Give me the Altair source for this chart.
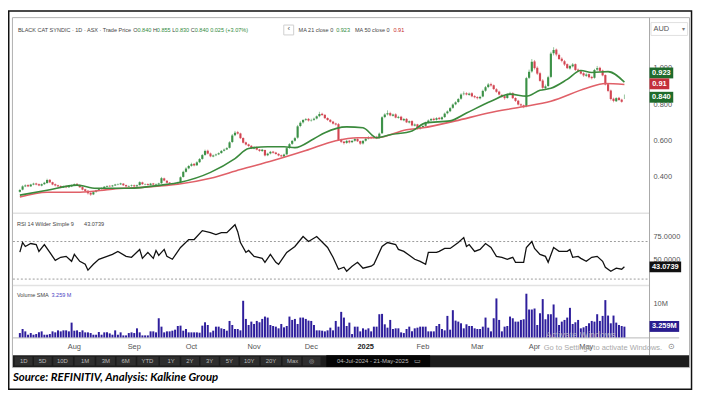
import altair as alt
import pandas as pd

# ----------------------------------------------------------------- data
month_ticks = [20, 42, 63, 86, 107, 127, 148, 168, 189, 208]
month_labels = ["Aug", "Sep", "Oct", "Nov", "Dec", "2025", "Feb", "Mar", "Apr", "May"]

close = [
    0.330, 0.350, 0.355, 0.350, 0.360, 0.365, 0.360, 0.355, 0.362, 0.370, 0.385, 0.372, 0.360, 0.355, 0.350, 0.345, 0.350, 0.345, 0.352, 0.356,
    0.362, 0.358, 0.345, 0.332, 0.325, 0.312, 0.305, 0.318, 0.328, 0.335, 0.340, 0.348, 0.352, 0.350, 0.355, 0.360, 0.362, 0.366, 0.356, 0.350, 0.352, 0.355,
    0.350, 0.356, 0.373, 0.362, 0.362, 0.358, 0.365, 0.360, 0.362, 0.366, 0.395, 0.382, 0.370, 0.365, 0.362, 0.366, 0.372, 0.400, 0.430, 0.448, 0.462,
    0.472, 0.465, 0.482, 0.500, 0.522, 0.545, 0.530, 0.515, 0.520, 0.525, 0.532, 0.545, 0.552, 0.560, 0.592, 0.630, 0.645, 0.640, 0.615, 0.590, 0.580, 0.572, 0.560,
    0.565, 0.552, 0.545, 0.552, 0.520, 0.530, 0.540, 0.535, 0.528, 0.520, 0.515, 0.525, 0.560, 0.582, 0.600, 0.615, 0.680, 0.700, 0.715, 0.720, 0.712,
    0.715, 0.722, 0.735, 0.748, 0.742, 0.725, 0.715, 0.705, 0.695, 0.690, 0.605, 0.595, 0.588, 0.600, 0.592, 0.600, 0.610, 0.598, 0.585, 0.600,
    0.612, 0.620, 0.615, 0.622, 0.615, 0.640, 0.730, 0.745, 0.752, 0.740, 0.745, 0.728, 0.732, 0.715, 0.720, 0.702, 0.708, 0.685, 0.690, 0.668, 0.675,
    0.682, 0.700, 0.712, 0.720, 0.715, 0.725, 0.720, 0.730, 0.750, 0.762, 0.780, 0.800, 0.812, 0.830, 0.855, 0.860, 0.855, 0.860, 0.845, 0.840,
    0.835, 0.842, 0.875, 0.895, 0.910, 0.905, 0.885, 0.870, 0.855, 0.845, 0.835, 0.855, 0.860, 0.835, 0.820, 0.800, 0.795, 0.790, 0.945, 0.980, 1.035,
    1.000, 0.970, 0.930, 0.892, 0.900, 0.950, 1.080, 1.100, 1.075, 1.050, 1.040, 1.020, 1.000, 1.012, 1.020, 0.990, 0.985, 0.970, 0.960,
    0.965, 0.950, 0.945, 0.990, 1.000, 0.985, 0.960, 0.910, 0.875, 0.830, 0.820, 0.835, 0.825, 0.815, 0.840,
]
open_ = [
    0.320, 0.332, 0.350, 0.357, 0.350, 0.360, 0.366, 0.362, 0.354, 0.362, 0.368, 0.386, 0.373, 0.362, 0.356, 0.352, 0.344, 0.352, 0.345, 0.350,
    0.355, 0.364, 0.358, 0.346, 0.334, 0.326, 0.314, 0.306, 0.320, 0.328, 0.336, 0.341, 0.348, 0.353, 0.350, 0.355, 0.360, 0.361, 0.365, 0.357, 0.349, 0.352,
    0.356, 0.350, 0.357, 0.372, 0.360, 0.363, 0.358, 0.366, 0.359, 0.361, 0.367, 0.394, 0.381, 0.371, 0.366, 0.361, 0.366, 0.373, 0.402, 0.430, 0.449,
    0.463, 0.474, 0.466, 0.483, 0.501, 0.523, 0.546, 0.531, 0.514, 0.521, 0.526, 0.533, 0.546, 0.553, 0.562, 0.594, 0.631, 0.648, 0.641, 0.616, 0.592, 0.581, 0.573,
    0.558, 0.566, 0.553, 0.544, 0.550, 0.521, 0.531, 0.541, 0.536, 0.529, 0.521, 0.514, 0.526, 0.561, 0.584, 0.601, 0.618, 0.682, 0.702, 0.716, 0.721,
    0.713, 0.716, 0.723, 0.736, 0.749, 0.743, 0.726, 0.716, 0.706, 0.696, 0.692, 0.606, 0.596, 0.589, 0.601, 0.593, 0.601, 0.611, 0.599, 0.586,
    0.601, 0.613, 0.621, 0.616, 0.623, 0.616, 0.642, 0.731, 0.746, 0.753, 0.738, 0.746, 0.727, 0.733, 0.713, 0.721, 0.701, 0.709, 0.684, 0.691, 0.667,
    0.676, 0.683, 0.701, 0.713, 0.722, 0.716, 0.727, 0.719, 0.731, 0.752, 0.763, 0.782, 0.801, 0.814, 0.832, 0.857, 0.862, 0.853, 0.862, 0.846,
    0.841, 0.834, 0.844, 0.876, 0.896, 0.912, 0.906, 0.884, 0.871, 0.853, 0.846, 0.836, 0.857, 0.862, 0.836, 0.821, 0.801, 0.796, 0.792, 0.947, 0.982,
    1.037, 1.002, 0.972, 0.932, 0.890, 0.902, 0.952, 1.082, 1.102, 1.073, 1.052, 1.038, 1.022, 0.998, 1.010, 1.022, 0.992, 0.983, 0.972,
    0.958, 0.967, 0.952, 0.947, 0.992, 1.002, 0.987, 0.962, 0.912, 0.877, 0.832, 0.818, 0.837, 0.827, 0.840,
]
high = [
    0.336, 0.356, 0.361, 0.362, 0.364, 0.370, 0.370, 0.366, 0.366, 0.375, 0.392, 0.390, 0.376, 0.366, 0.359, 0.356, 0.354, 0.355, 0.356, 0.360,
    0.366, 0.368, 0.361, 0.349, 0.337, 0.330, 0.318, 0.322, 0.332, 0.338, 0.344, 0.352, 0.356, 0.357, 0.358, 0.364, 0.366, 0.370, 0.368, 0.360, 0.356, 0.360,
    0.360, 0.360, 0.378, 0.376, 0.366, 0.367, 0.369, 0.369, 0.366, 0.370, 0.402, 0.398, 0.384, 0.374, 0.369, 0.370, 0.376, 0.405, 0.436, 0.455, 0.468,
    0.480, 0.478, 0.488, 0.506, 0.528, 0.552, 0.552, 0.536, 0.525, 0.530, 0.537, 0.550, 0.558, 0.566, 0.598, 0.638, 0.655, 0.655, 0.645, 0.620, 0.596, 0.585, 0.577,
    0.570, 0.570, 0.556, 0.556, 0.552, 0.535, 0.545, 0.545, 0.540, 0.532, 0.525, 0.530, 0.565, 0.588, 0.605, 0.622, 0.688, 0.708, 0.720, 0.726, 0.726,
    0.722, 0.728, 0.740, 0.760, 0.755, 0.748, 0.730, 0.720, 0.710, 0.700, 0.698, 0.612, 0.600, 0.606, 0.605, 0.606, 0.615, 0.614, 0.602, 0.605,
    0.616, 0.626, 0.626, 0.628, 0.628, 0.646, 0.736, 0.752, 0.768, 0.760, 0.750, 0.752, 0.738, 0.738, 0.726, 0.726, 0.712, 0.714, 0.696, 0.694, 0.680,
    0.688, 0.706, 0.718, 0.726, 0.728, 0.730, 0.732, 0.735, 0.756, 0.768, 0.786, 0.806, 0.818, 0.836, 0.862, 0.872, 0.868, 0.866, 0.868, 0.852,
    0.846, 0.848, 0.882, 0.902, 0.918, 0.920, 0.910, 0.890, 0.876, 0.858, 0.850, 0.860, 0.870, 0.868, 0.840, 0.826, 0.806, 0.800, 0.952, 0.992, 1.050,
    1.045, 1.010, 0.980, 0.940, 0.910, 0.958, 1.090, 1.115, 1.108, 1.080, 1.060, 1.045, 1.026, 1.018, 1.028, 1.026, 0.998, 0.990, 0.978,
    0.972, 0.972, 0.958, 0.996, 1.012, 1.008, 0.992, 0.966, 0.918, 0.882, 0.838, 0.840, 0.842, 0.832, 0.855,
]
low = [
    0.316, 0.328, 0.346, 0.346, 0.347, 0.356, 0.356, 0.351, 0.350, 0.358, 0.365, 0.368, 0.356, 0.350, 0.346, 0.340, 0.341, 0.340, 0.342, 0.346,
    0.352, 0.354, 0.342, 0.328, 0.318, 0.305, 0.298, 0.302, 0.315, 0.324, 0.332, 0.338, 0.345, 0.346, 0.347, 0.352, 0.356, 0.358, 0.352, 0.345, 0.345, 0.348,
    0.346, 0.346, 0.354, 0.358, 0.356, 0.354, 0.355, 0.356, 0.355, 0.358, 0.364, 0.378, 0.366, 0.361, 0.358, 0.358, 0.364, 0.370, 0.398, 0.426, 0.444,
    0.458, 0.460, 0.462, 0.478, 0.496, 0.518, 0.526, 0.510, 0.510, 0.516, 0.522, 0.530, 0.542, 0.550, 0.558, 0.588, 0.626, 0.635, 0.610, 0.586, 0.575, 0.566, 0.555,
    0.554, 0.548, 0.540, 0.540, 0.515, 0.516, 0.526, 0.530, 0.524, 0.515, 0.510, 0.510, 0.522, 0.556, 0.578, 0.596, 0.612, 0.675, 0.695, 0.710, 0.706,
    0.706, 0.710, 0.718, 0.730, 0.738, 0.720, 0.710, 0.700, 0.690, 0.684, 0.600, 0.588, 0.580, 0.584, 0.586, 0.588, 0.596, 0.594, 0.578, 0.580,
    0.596, 0.608, 0.610, 0.612, 0.610, 0.612, 0.638, 0.725, 0.740, 0.735, 0.734, 0.724, 0.722, 0.710, 0.708, 0.698, 0.696, 0.680, 0.680, 0.662, 0.662,
    0.670, 0.678, 0.696, 0.708, 0.710, 0.712, 0.715, 0.714, 0.726, 0.746, 0.758, 0.776, 0.796, 0.808, 0.826, 0.850, 0.850, 0.848, 0.840, 0.834,
    0.828, 0.828, 0.840, 0.870, 0.890, 0.898, 0.880, 0.864, 0.850, 0.838, 0.826, 0.832, 0.850, 0.830, 0.814, 0.795, 0.788, 0.780, 0.785, 0.940, 0.975,
    0.992, 0.962, 0.925, 0.880, 0.882, 0.895, 0.945, 1.070, 1.065, 1.045, 1.032, 1.012, 0.995, 0.992, 1.004, 0.984, 0.978, 0.965, 0.952,
    0.952, 0.944, 0.938, 0.942, 0.985, 0.978, 0.955, 0.905, 0.868, 0.822, 0.812, 0.814, 0.820, 0.810, 0.830,
]
volume_m = [
    1.3, 2.5, 1.8, 0.8, 1.3, 0.8, 1.0, 1.5, 1.8, 0.8,
    0.8, 1.0, 1.8, 1.5, 2.1, 1.8, 2.1, 2.1, 1.8, 4.4,
    2.0, 2.1, 1.6, 2.1, 1.5, 1.5, 1.3, 0.8, 0.8, 1.6,
    0.8, 1.5, 1.5, 1.2, 0.8, 2.1, 0.8, 1.5, 0.6, 0.6,
    1.3, 1.5, 1.3, 2.7, 1.5, 0.6, 0.6, 0.6, 1.8, 1.8,
    1.5, 5.7, 3.2, 1.5, 1.8, 1.8, 2.0, 2.3, 3.4, 3.5,
    2.0, 2.5, 1.5, 1.5, 1.5, 1.5, 1.4, 3.5, 4.5, 3.7,
    1.5, 2.0, 3.2, 3.2, 2.7, 2.5, 2.0, 4.9, 3.7, 2.5,
    2.5, 2.1, 10.9, 5.5, 3.7, 4.7, 4.0, 4.9, 4.5, 5.5,
    6.2, 5.9, 3.7, 3.4, 3.2, 2.7, 4.0, 3.0, 3.4, 6.2,
    5.2, 5.5, 4.0, 5.9, 5.9, 5.5, 5.0, 4.9,
    3.7, 2.1, 2.1, 2.0, 1.8, 2.1, 2.9, 2.1, 4.9, 3.2,
    7.6, 5.9, 3.4, 4.4, 1.0, 3.2, 3.2, 1.8, 2.7, 2.3,
    2.7, 1.8, 3.2, 3.2, 6.9, 7.0, 3.9, 2.9, 5.2, 2.5,
    2.7, 2.7, 1.5, 1.3, 2.5, 3.2, 1.8, 2.7, 2.9, 3.2,
    3.2, 3.2, 1.8, 1.8, 1.8, 3.4, 4.0, 2.5, 2.1, 6.4,
    2.3, 8.1, 5.0, 4.7, 4.2, 2.7, 3.9, 3.4, 3.4, 2.7,
    2.5, 2.5, 3.2, 5.9, 2.9, 1.8, 5.7, 11.6, 5.2, 1.8,
    3.2, 3.4, 6.2, 5.7, 4.7, 4.7, 5.2, 5.4, 13.0, 8.3,
    8.3, 8.6, 3.7, 7.2, 11.4, 5.4, 6.9, 6.9, 9.8, 5.9,
    3.7, 4.7, 5.2, 5.9, 8.8, 4.0, 4.5, 5.2, 2.7, 3.0,
    3.4, 4.2, 4.9, 4.7, 6.9, 4.9, 6.4, 11.1, 6.5, 4.2,
    6.5, 4.4, 3.7, 3.4, 3.2,
]
rsi_idx = [0, 1, 2, 4, 6, 7, 9, 11, 13, 15, 17, 19, 20, 22, 24, 25, 27, 29, 31, 34, 36, 39, 41, 44, 45,
           47, 49, 50, 51, 53, 54, 56, 59, 62, 64, 67, 70, 72, 74, 76, 79, 80, 81, 83, 84, 86, 89, 90, 92,
           94, 95, 98, 101, 104, 106, 109, 113, 115, 117, 119, 120, 122, 124, 126, 129, 130, 133, 135, 138,
           139, 141, 143, 145, 147, 149, 150, 153, 154, 156, 158, 159, 161, 163, 164, 165, 167, 169, 171,
           173, 175, 177, 179, 181, 182, 185, 186, 188, 189, 191, 193, 194, 196, 198, 201, 202, 203, 205,
           206, 208, 210, 212, 214, 215, 217, 219, 221, 222]
rsi_val = [58.7, 69.0, 64.7, 67.9, 66.8, 59.5, 66.8, 58.4, 50.0, 53.2, 54.2, 48.9, 56.3, 48.9, 45.8, 39.5,
           45.8, 51.1, 53.2, 56.3, 59.5, 54.2, 53.2, 61.6, 52.1, 58.4, 52.1, 60.5, 55.3, 61.6, 54.2, 51.1,
           63.7, 72.1, 72.1, 81.6, 79.5, 77.4, 79.5, 79.5, 87.9, 80.5, 68.9, 58.4, 60.5, 54.2, 52.1, 47.9,
           56.3, 47.9, 45.8, 58.4, 64.7, 75.3, 70.0, 75.3, 63.7, 53.2, 40.5, 42.6, 38.4, 43.7, 47.9, 41.6,
           43.7, 45.8, 64.7, 68.9, 66.8, 61.6, 59.5, 55.3, 51.1, 48.9, 45.8, 58.4, 58.4, 59.5, 62.6, 62.6,
           64.7, 68.9, 74.2, 64.7, 66.8, 59.5, 61.6, 67.9, 63.7, 54.2, 53.2, 51.1, 53.2, 47.9, 47.9, 63.7,
           70.0, 62.6, 56.3, 54.2, 47.9, 63.7, 59.5, 59.5, 61.6, 53.2, 54.2, 52.1, 48.9, 53.2, 54.2, 48.9,
           42.6, 38.4, 41.6, 40.5, 43.07]
ma21_idx = [0, 10, 21, 28, 40, 52, 59, 70, 79, 84, 91, 97, 101, 108, 112, 120, 126, 131, 136, 144, 149,
            158, 164, 173, 180, 186, 191, 195, 201, 206, 210, 216, 222]
ma21_val = [0.302, 0.329, 0.357, 0.340, 0.340, 0.357, 0.373, 0.427, 0.503, 0.558, 0.568, 0.568, 0.563,
            0.612, 0.645, 0.677, 0.672, 0.617, 0.634, 0.655, 0.699, 0.710, 0.753, 0.818, 0.857, 0.846,
            0.878, 0.889, 0.938, 0.987, 0.976, 0.981, 0.923]
ma50_idx = [0, 10, 22, 34, 46, 58, 70, 81, 93, 105, 116, 124, 131, 142, 148, 160, 172, 184, 195, 208, 215, 222]
ma50_val = [0.291, 0.318, 0.318, 0.335, 0.346, 0.362, 0.395, 0.443, 0.492, 0.547, 0.601, 0.617, 0.617,
            0.661, 0.672, 0.710, 0.753, 0.786, 0.818, 0.889, 0.916, 0.910]

price_ticks = [0.4, 0.6, 0.8, 1.0]
price_tick_labels = ["0.400", "0.600", "0.800", "1.000"]
rsi_ticks = [50, 75]
rsi_tick_labels = ["50.0000", "75.0000"]
rsi_band_levels = [30, 70]
vol_ticks = [10]
vol_tick_labels = ["10M"]

last_close, last_ma21, last_ma50, last_rsi, last_vol_sma = 0.840, 0.923, 0.91, 43.0739, 3.259

header_segments = ["BLACK CAT SYNDIC · 1D · ASX · Trade Price", "O", "0.840", "H", "0.855", "L", "0.830",
                   "C", "0.840", "0.025 (+3.07%)", "MA 21 close 0", "0.923", "MA 50 close 0", "0.91"]
toolbar_labels = ["1D", "5D", "10D", "1M", "3M", "6M", "YTD", "1Y", "2Y", "3Y", "5Y", "10Y", "20Y", "Max", "◎"]

# ----------------------------------------------------------------- layout / style
W, H = 694, 386
FONT = "Liberation Sans"
GREEN, RED = "#2f8a3b", "#cf3a47"
MA21C, MA50C = "#3a8a3c", "#e06068"
VOLC = "#2e1e9c"
GRAY_TXT = "#444444"
AXIS_TXT = "#555555"
AX_X = 649  # right-hand axis line position
HDR_SIZE = 5.6
TICK_SIZE = 7.5

header_x = [10, 126.7, 131, 146.6, 150.6, 166.2, 169.3, 184.9, 188.9, 204.5, 294, 332, 351, 390]
header_c = [GRAY_TXT, GRAY_TXT, GREEN, GRAY_TXT, GREEN, GRAY_TXT, GREEN, GRAY_TXT, GREEN, GREEN,
            GRAY_TXT, GREEN, GRAY_TXT, "#c62828"]
toolbar_x = [16, 35, 55, 78, 99, 119, 141, 165, 184, 204, 224, 244, 266, 288, 307]
toolbar_edges = [6] + [(a + b) / 2 for a, b in zip(toolbar_x[:-1], toolbar_x[1:])] + [317]

xs = alt.Scale(domain=[0, 222], range=[7, 628.6], nice=False, zero=False)
ps = alt.Scale(domain=[0.2, 1.2], range=[205.8, 21.8], nice=False, zero=False)
rs = alt.Scale(domain=[30, 70], range=[272, 234], nice=False, zero=False)
vs = alt.Scale(domain=[0, 10], range=[331, 297], nice=False, zero=False)

one = pd.DataFrame({"a": [0]})


def txt(s, x, y, size=7, color=GRAY_TXT, weight="normal", style="normal", align="left", font=FONT, opacity=1):
    return alt.Chart(pd.DataFrame({"t": [s]})).mark_text(
        align=align, baseline="middle", fontSize=size, color=color, fontWeight=weight,
        fontStyle=style, font=font, opacity=opacity
    ).encode(text="t:N", x=alt.value(x), y=alt.value(y))


def rect(x1, x2, y1, y2, fill="transparent", stroke=None, sw=1):
    kw = dict(fill=fill, strokeWidth=sw)
    if stroke:
        kw["stroke"] = stroke
    return alt.Chart(one).mark_rect(**kw).encode(
        x=alt.value(x1), x2=alt.value(x2), y=alt.value(y1), y2=alt.value(y2))


def hline(x1, x2, y, color, sw=1, dash=None):
    kw = dict(color=color, strokeWidth=sw)
    if dash:
        kw["strokeDash"] = dash
    return alt.Chart(one).mark_rule(**kw).encode(x=alt.value(x1), x2=alt.value(x2), y=alt.value(y))


def vline(x, y1, y2, color, sw=1):
    return alt.Chart(one).mark_rule(color=color, strokeWidth=sw).encode(
        x=alt.value(x), y=alt.value(y1), y2=alt.value(y2))


def y_ticklabels(values, labels, scale):
    """Right-hand axis tick labels placed through the pane's y scale."""
    d = pd.DataFrame({"v": values, "t": labels})
    return alt.Chart(d).mark_text(align="left", baseline="middle", fontSize=TICK_SIZE, font=FONT,
                                  color=AXIS_TXT).encode(
        x=alt.value(AX_X + 4), y=alt.Y("v:Q", scale=scale, axis=None), text="t:N")


def pill(value, label, fill, width, scale, yoff=0):
    d = pd.DataFrame({"v": [value], "t": [label]})
    bar = alt.Chart(d).mark_rule(color=fill, strokeWidth=11, yOffset=yoff).encode(
        x=alt.value(AX_X), x2=alt.value(AX_X + width), y=alt.Y("v:Q", scale=scale, axis=None))
    lab = alt.Chart(d).mark_text(color="white", fontSize=7.5, fontWeight="bold", font=FONT,
                                 align="center", baseline="middle", yOffset=yoff).encode(
        x=alt.value(AX_X + width / 2), y=alt.Y("v:Q", scale=scale, axis=None), text="t:N")
    return bar + lab


# ----------------------------------------------------------------- data frames
candles = pd.DataFrame({"idx": list(range(len(close))), "open": open_, "close": close,
                        "high": high, "low": low})
candles["dir"] = ["up" if c >= o else "down" for o, c in zip(open_, close)]
vol_df = pd.DataFrame({"idx": list(range(len(volume_m))), "m": volume_m})
rsi_df = pd.DataFrame({"idx": rsi_idx, "r": rsi_val})
ma21_df = pd.DataFrame({"idx": ma21_idx, "v": ma21_val})
ma50_df = pd.DataFrame({"idx": ma50_idx, "v": ma50_val})
months_df = pd.DataFrame({"idx": month_ticks, "t": month_labels})
months_df["year"] = [m.isdigit() for m in month_labels]

color_enc = alt.Color("dir:N", scale=alt.Scale(domain=["up", "down"], range=[GREEN, RED]), legend=None)
x_plain = alt.X("idx:Q", scale=xs, axis=None)

# ----------------------------------------------------------------- background / frame
background = alt.layer(
    rect(0.75, 691.5, 0.75, 383.5, stroke="#111111", sw=1.5),
    rect(4.5, 689.5, 7.5, 361.5, stroke="#b0b0b0", sw=1),
    hline(5, AX_X, 205.5, "#e2e2e2", 1.5),
    hline(5, AX_X, 278.5, "#e2e2e2", 1.5),
    hline(5, 679, 331.5, "#b8b8b8", 1),
    vline(AX_X, 7.5, 349, "#a8a8a8", 1),
    rect(650.5, 687.5, 12.5, 25.5, stroke="#e0e0e0"),
)

# ----------------------------------------------------------------- price pane
wick = alt.Chart(candles).mark_rule(strokeWidth=1, opacity=0.5).encode(
    x=x_plain, y=alt.Y("low:Q", scale=ps, axis=None), y2="high:Q", color=color_enc)
body = alt.Chart(candles).mark_bar(size=2.2, opacity=0.9).encode(
    x=x_plain, y=alt.Y("open:Q", scale=ps, axis=None), y2="close:Q", color=color_enc)
ma50 = alt.Chart(ma50_df).mark_line(color=MA50C, strokeWidth=1.6, interpolate="monotone").encode(
    x=x_plain, y=alt.Y("v:Q", scale=ps, axis=None))
ma21 = alt.Chart(ma21_df).mark_line(color=MA21C, strokeWidth=1.6, interpolate="monotone").encode(
    x=x_plain, y=alt.Y("v:Q", scale=ps, axis=None))
price = alt.layer(
    y_ticklabels(price_ticks, price_tick_labels, ps),
    wick, body, ma50, ma21,
    pill(last_ma21, "0.923", "#1f6b2c", 24, ps, yoff=-9.3),
    pill(last_ma50, "0.91", "#c4303b", 20, ps, yoff=-0.7),
    pill(last_close, "0.840", "#1f6b2c", 24, ps),
)

# ----------------------------------------------------------------- RSI pane
rsi_bands = alt.Chart(pd.DataFrame({"r": rsi_band_levels})).mark_rule(
    color="#9c9c9c", strokeDash=[2, 2], strokeWidth=1).encode(
    y=alt.Y("r:Q", scale=rs, axis=None), x=alt.value(5), x2=alt.value(AX_X))
rsi_line = alt.Chart(rsi_df).mark_line(color="#111111", strokeWidth=1.3).encode(
    x=x_plain, y=alt.Y("r:Q", scale=rs, axis=None))
rsi = alt.layer(y_ticklabels(rsi_ticks, rsi_tick_labels, rs), rsi_bands, rsi_line,
                pill(last_rsi, "43.0739", "#111111", 32, rs))

# ----------------------------------------------------------------- volume pane
vol_bars = alt.Chart(vol_df).mark_bar(size=2, color=VOLC).encode(
    x=x_plain, y=alt.Y("m:Q", scale=vs, axis=None))
vol = alt.layer(y_ticklabels(vol_ticks, vol_tick_labels, vs), vol_bars,
                pill(last_vol_sma, "3.259M", "#2a1d8f", 30, vs))

# month labels along the time axis (placed through the shared x scale)
month_base = alt.Chart(months_df)
month_text = alt.layer(
    month_base.transform_filter("!datum.year").mark_text(
        align="center", baseline="middle", fontSize=TICK_SIZE, font=FONT, color=AXIS_TXT
    ).encode(x=x_plain, y=alt.value(341), text="t:N"),
    month_base.transform_filter("datum.year").mark_text(
        align="center", baseline="middle", fontSize=TICK_SIZE, font=FONT, color="#222222", fontWeight="bold"
    ).encode(x=x_plain, y=alt.value(341), text="t:N"),
)

# ----------------------------------------------------------------- texts / toolbar
hdr = pd.DataFrame({"t": header_segments, "x": header_x, "c": header_c})
header = alt.Chart(hdr).mark_text(align="left", baseline="middle", fontSize=HDR_SIZE, font=FONT).encode(
    x=alt.X("x:Q", scale=None), y=alt.value(20), text="t:N", color=alt.Color("c:N", scale=None))

tb = pd.DataFrame({"t": toolbar_labels, "x": toolbar_x})
toolbar_text = alt.Chart(tb).mark_text(align="center", baseline="middle", fontSize=6.0, font=FONT,
                                       color="#bdbdbd").encode(
    x=alt.X("x:Q", scale=None), y=alt.value(355), text="t:N")
btn = pd.DataFrame({"x1": [e + 0.8 for e in toolbar_edges[:-1]], "x2": [e - 0.8 for e in toolbar_edges[1:]]})
toolbar_buttons = alt.Chart(btn).mark_rect(fill="#2e2e2e").encode(
    x=alt.X("x1:Q", scale=None), x2="x2", y=alt.value(350.5), y2=alt.value(359.5))

foreground = alt.layer(
    header,
    rect(279, 289, 15, 25, fill="white", stroke="#cfcfcf"),
    txt("‹", 284, 19.5, size=8, color="#555555", align="center"),
    txt("AUD", 653, 19, size=7.5, color="#555555"),
    txt("▾", 683, 19, size=6, color="#777777", align="center"),
    txt("RSI 14 Wilder Simple 9", 9, 216, size=HDR_SIZE),
    txt("43.0739", 77, 216, size=HDR_SIZE),
    txt("Volume SMA", 9, 288, size=HDR_SIZE),
    txt("3.259 M", 44, 288, size=HDR_SIZE, color="#4b3fc4"),
    txt("Activate Windows", 544, 329, size=9, color="#c9c9c9", opacity=0.8),
    txt("Go to Settings to activate Windows.", 542, 342, size=7.6, color="#a9a9a9"),
    txt("⊙", 671, 341, size=8, color="#777777", align="center"),
    rect(5, 689, 349, 361, fill="#1c1c1c"),
    toolbar_buttons,
    rect(322, 427, 349, 361, fill="#050505"),
    toolbar_text,
    txt("04-Jul-2024  -  21-May-2025", 369, 355, size=6.0, color="#bdbdbd", align="center"),
    txt("▭", 414, 355, size=7, color="#bdbdbd", align="center"),
    txt("Source: REFINITIV, Analysis: Kalkine Group", 5, 372, size=11.5, color="#000000",
        weight="bold", style="italic", font="Lato"),
)

chart = alt.layer(background, price, rsi, vol, month_text, foreground).resolve_scale(
    y="independent"
).properties(
    width=W, height=H, autosize=alt.AutoSizeParams(type="none"), padding=0
).configure_view(stroke=None)

chart.save("out.html", embed_options={"renderer": "svg", "actions": False})
